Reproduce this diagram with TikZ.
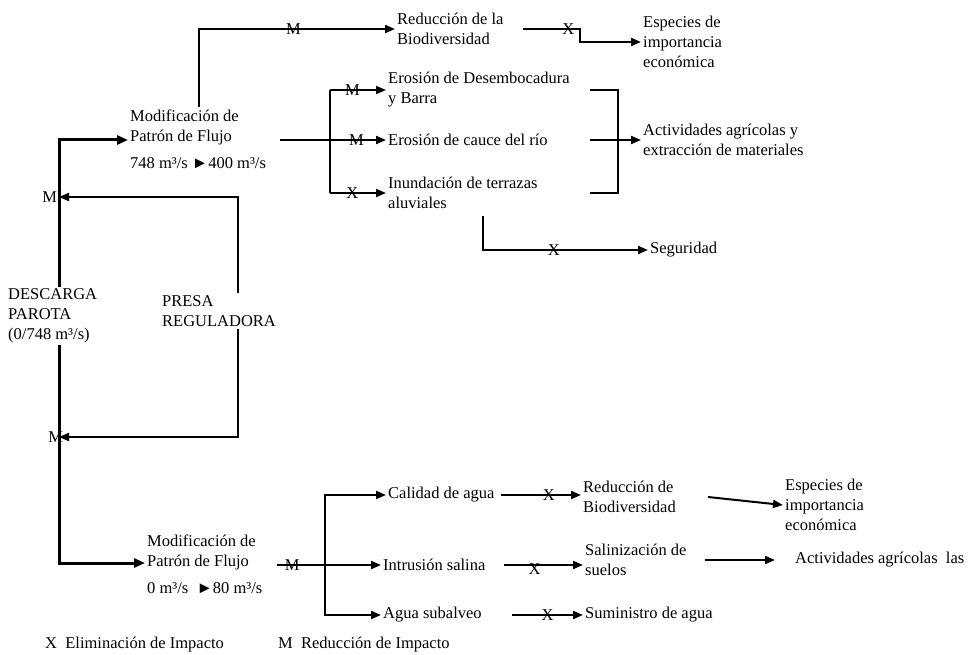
\documentclass[tikz,border=0pt]{standalone}
\usepackage{fontspec}
\setmainfont{Liberation Serif}
\usetikzlibrary{arrows.meta}

\begin{document}
\begin{tikzpicture}[x=1pt, y=-1pt,
        txt/.style={anchor=west, align=left, inner sep=2pt, font=\fontsize{16.5}{20}\selectfont},
        lbl/.style={inner sep=0pt, font=\fontsize{16.5}{20}\selectfont},
        line/.style={line width=2pt},
        main/.style={line width=3pt},
        arrow/.style={line, -{Triangle[length=10pt,width=8pt]}}
    ]
        \useasboundingbox (0,0) rectangle (976,655);

        % Discharge and regulating dam
        \node[txt] (descarga) at (6,316) {DESCARGA\\PAROTA\\(0/748 m³/s)};
        \node[txt] (presa) at (160,311) {PRESA\\REGULADORA};
        \coordinate (trunk) at (59,0);
        \coordinate (damtop) at (238,197);
        \coordinate (dambot) at (238,437);

        % Upper branch
        \node[txt] (mod1) at (128,127) {Modificación de\\Patrón de Flujo};
        \node[txt] (q1) at (128,163) {748 m³/s ►400 m³/s};
        \node[txt] (red1) at (395,29) {Reducción de la\\Biodiversidad};
        \node[txt] (esp1) at (641,42) {Especies de\\importancia\\económica};
        \node[txt] (ero1) at (386,90) {Erosión de Desembocadura\\y Barra};
        \node[txt] (ero2) at (386,140) {Erosión de cauce del río};
        \node[txt] (inu) at (386,193) {Inundación de terrazas\\aluviales};
        \node[txt] (act1) at (641,140) {Actividades agrícolas y\\extracción de materiales};
        \node[txt] (seg) at (648,250) {Seguridad};
        \coordinate (split1) at (330,140);
        \coordinate (join1) at (618,140);

        % Lower branch
        \node[txt] (mod2) at (145,552) {Modificación de\\Patrón de Flujo};
        \node[txt] (q2) at (145,588) {0 m³/s\enspace ►80 m³/s};
        \node[txt] (cal) at (386,495) {Calidad de agua};
        \node[txt] (intr) at (381,565) {Intrusión salina};
        \node[txt] (agua) at (381,615) {Agua subalveo};
        \node[txt] (red2) at (581,497) {Reducción de\\Biodiversidad};
        \node[txt] (sal) at (583,560) {Salinización de\\suelos};
        \node[txt] (sum) at (583,615) {Suministro de agua};
        \node[txt] (esp2) at (783,505) {Especies de\\importancia\\económica};
        \node[txt] (act2) at (793,560) {Actividades agrícolas\enspace las};
        \coordinate (split2) at (325,565);

        % Legend
        \node[txt] (legx) at (43,645) {X\enspace Eliminación de Impacto};
        \node[txt] (legm) at (276,645) {M\enspace Reducción de Impacto};

        % Main discharge line
        \draw[main, -{Triangle[length=11pt,width=9pt]}] (descarga.north -| trunk) |- ([yshift=-13pt]mod1.west);
        \draw[main, -{Triangle[length=11pt,width=9pt]}] (descarga.south -| trunk) |- ([yshift=-11pt]mod2.west);

        % Dam loop
        \draw[arrow] (presa.north -| damtop) -- (damtop) -- node[lbl, at end, anchor=east, xshift=-1pt] {M} (damtop -| trunk);
        \draw[arrow] (presa.south -| dambot) -- (dambot) -- node[lbl, at end, anchor=east, xshift=5pt] {M} (dambot -| trunk);

        % Upper connections
        \draw[arrow] ([xshift=15pt]mod1.north) |- node[lbl, pos=0.74] {M} (red1.west);
        \draw[arrow] (red1.east) ++(17,0) -- node[lbl, pos=0.8] {X} ++(57,0) |- (esp1.west);
        \draw[arrow] (q1.east |- split1) ++(12,0) -- node[lbl, pos=0.72] {M} (ero2.west);
        \draw[line] (split1 |- ero1) -- (split1 |- inu);
        \draw[arrow] (split1 |- ero1) -- node[lbl, pos=0.4] {M} (ero1.west);
        \draw[arrow] (split1 |- inu) -- node[lbl, pos=0.4] {X} (inu.west);
        \draw[line] (join1 |- ero1) ++(-28,0) -| (join1 |- inu) -- ++(-28,0);
        \draw[arrow] (join1) ++(-28,0) -- (act1.west);
        \draw[arrow] ([xshift=20pt]inu.south) ++(0,5) |- node[lbl, pos=0.715] {X} (seg.west);

        % Lower connections
        \draw[arrow] (q2.east |- intr) ++(12,0) -- node[lbl, pos=0.15] {M} (intr.west);
        \draw[arrow] (split2) |- (cal.west);
        \draw[arrow] (split2) |- (agua.west);
        \draw[arrow] (cal.east) ++(4,0) -- node[lbl, pos=0.6] {X} (cal.east -| red2.west);
        \draw[arrow] (red2.east) ++(30,0) -- (esp2.west);
        \draw[arrow] (intr.east) ++(16,0) -- node[lbl, pos=0.39, yshift=-4pt] {X} (intr.east -| sal.west);
        \draw[arrow, shorten >=18pt] (act2.west -| sal.east) ++(16,0) -- (act2.west);
        \draw[arrow] (agua.east) ++(28,0) -- node[lbl, pos=0.5] {X} (sum.west);

    \end{tikzpicture}
\end{document}
